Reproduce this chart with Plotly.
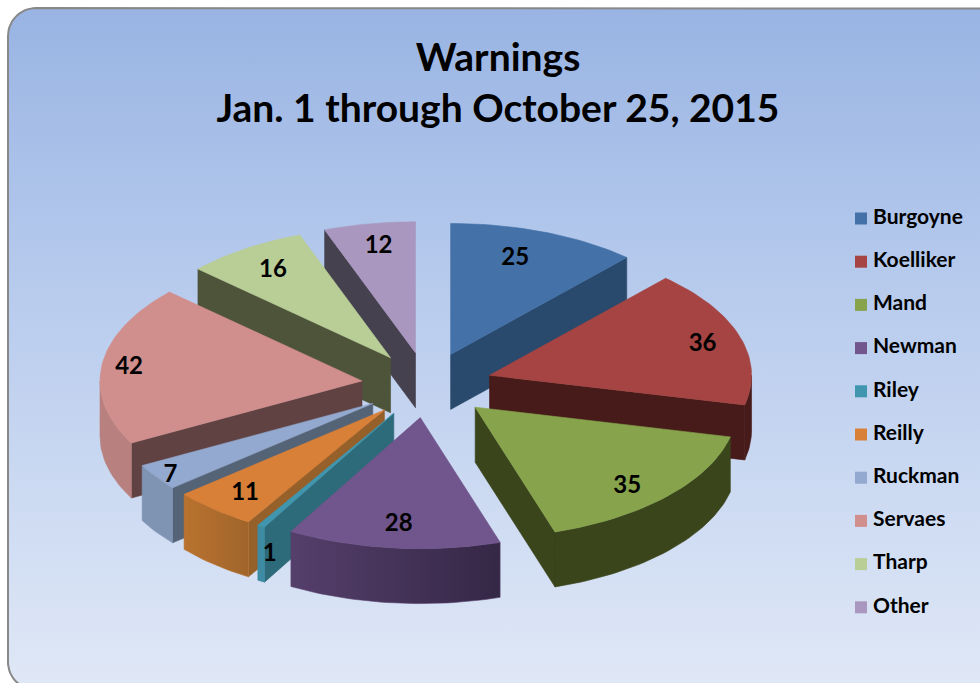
import math
import plotly.graph_objects as go

# ---- data ----
names = ["Burgoyne", "Koelliker", "Mand", "Newman", "Riley", "Reilly", "Ruckman", "Servaes", "Tharp", "Other"]
values = [25, 36, 35, 28, 1, 11, 7, 42, 16, 12]
title_lines = ["Warnings", "Jan. 1 through October 25, 2015"]

# ---- styles ----
top_colors = ["#4472A8", "#A54442", "#87A44D", "#71558D", "#4096AE", "#D88038", "#93A9CF", "#D08F8D", "#B9CD96", "#A997BF"]
cut_colors = ["#2A4A6D", "#471B19", "#3A451C", "#3A2B4B", "#2D6A7A", "#96602B", "#546376", "#604243", "#4E5439", "#45414F"]
outer_left = ["#2A4A6D", "#471B19", "#3A451C", "#553F6B", "#3E8CA3", "#B9722F", "#7F93B3", "#B8807E", "#4E5439", "#45414F"]
outer_right = ["#2A4A6D", "#471B19", "#3A451C", "#352746", "#3E8CA3", "#A0652B", "#7F93B3", "#B8807E", "#4E5439", "#45414F"]
label_nudge_x = [-11, 13, -2, 0, -18, -3, -29, -25, -1, 0]
label_nudge_y = [2, 1, 9, 3, 51, 5, 14, 0, 0, -3]

W, H = 980, 683
CX, CY = 427, 385       # pie centre on the page
RX, RY = 262, 131       # ellipse radii
EXPLODE = 0.25          # explosion as a fraction of the radius
DEPTH = 55              # extruded height
FONT = "Lato"
LEGEND_SWATCH_X, LEGEND_TEXT_X, LEGEND_TOP, LEGEND_PITCH = 861, 873, 218.5, 43.2


def ground(a, r=1.0):
    return r * RX * math.sin(a), -r * RY * math.cos(a)


def arc(ax, ay, a0, a1, dy=0.0, step=math.radians(1.5)):
    n = max(2, int(abs(a1 - a0) / step) + 2)
    pts = []
    for i in range(n):
        a = a0 + (a1 - a0) * i / (n - 1)
        gx, gy = ground(a)
        pts.append((ax + gx, ay + gy + dy))
    return pts


def poly(pts, color, gradient=None):
    xs = [p[0] for p in pts] + [pts[0][0]]
    ys = [p[1] for p in pts] + [pts[0][1]]
    kw = dict(x=xs, y=ys, mode="lines", fill="toself", hoverinfo="skip", showlegend=False,
              line=dict(color=color, width=0.6))
    if gradient:
        kw["fillgradient"] = dict(type="horizontal", colorscale=[[0, gradient[0]], [1, gradient[1]]])
    else:
        kw["fillcolor"] = color
    return go.Scatter(**kw)


fig = go.Figure()

# chart-area frame with the vertical background gradient
def rounded_frame(x0, y0, x1, y1, r):
    pts = []
    for cx, cy, start in [(x0 + r, y0 + r, 180), (x1 - r, y0 + r, 270), (x1 - r, y1 - r, 0), (x0 + r, y1 - r, 90)]:
        for d in range(0, 91, 6):
            t = math.radians(start + d)
            pts.append((cx + r * math.cos(t), cy + r * math.sin(t)))
    pts.append(pts[0])
    return pts


frame = rounded_frame(8, 8, 1010, 690, 28)
fig.add_trace(go.Scatter(
    x=[p[0] for p in frame], y=[p[1] for p in frame], mode="lines", fill="toself",
    hoverinfo="skip", showlegend=False, line=dict(color="#888888", width=2),
    fillgradient=dict(type="vertical", colorscale=[[0, "#E0E8F6"], [0.55, "#BACDEE"], [1, "#99B4E3"]]),
))

# slices
total = sum(values)
slices = []
cum = 0
for i, v in enumerate(values):
    a0 = 2 * math.pi * cum / total
    a1 = 2 * math.pi * (cum + v) / total
    cum += v
    mid = (a0 + a1) / 2
    ex, ey = ground(mid, EXPLODE)
    ax, ay = CX + ex, CY + ey
    slices.append((ay - 0.5 * RY * math.cos(mid), i, a0, a1, mid, ax, ay))

label_x, label_y = [None] * len(values), [None] * len(values)
for _, i, a0, a1, mid, ax, ay in sorted(slices):
    # flat cut faces that look towards the viewer
    for a, visible in ((a0, math.sin(a0) < 0), (a1, math.sin(a1) > 0)):
        if visible:
            gx, gy = ground(a)
            fig.add_trace(poly([(ax, ay), (ax + gx, ay + gy), (ax + gx, ay + gy + DEPTH), (ax, ay + DEPTH)], cut_colors[i]))
    # curved outer wall: only the front half of the ellipse
    w0, w1 = max(a0, math.pi / 2), min(a1, 3 * math.pi / 2)
    if w1 > w0:
        upper = arc(ax, ay, w0, w1)
        lower = arc(ax, ay, w1, w0, DEPTH)
        fig.add_trace(poly(upper + lower, outer_left[i], gradient=(outer_left[i], outer_right[i])))
    # top face
    fig.add_trace(poly([(ax, ay)] + arc(ax, ay, a0, a1), top_colors[i]))
    gx, gy = ground(mid, 0.8)
    label_x[i] = ax + gx + label_nudge_x[i]
    label_y[i] = ay + gy + label_nudge_y[i]

# data labels
fig.add_trace(go.Scatter(
    x=label_x, y=label_y, mode="text", text=[str(v) for v in values], hoverinfo="skip", showlegend=False,
    textposition="middle center", textfont=dict(family=FONT, size=24, color="black", weight="bold"),
))

# legend entries
legend_y = [LEGEND_TOP + LEGEND_PITCH * k for k in range(len(names))]
fig.add_trace(go.Scatter(
    x=[LEGEND_SWATCH_X] * len(names), y=legend_y, mode="markers", hoverinfo="skip", showlegend=False,
    marker=dict(symbol="square", size=12, color=top_colors, line=dict(width=0)),
))
fig.add_trace(go.Scatter(
    x=[LEGEND_TEXT_X] * len(names), y=legend_y, mode="text", text=names, hoverinfo="skip", showlegend=False,
    textposition="middle right", textfont=dict(family=FONT, size=21, color="black", weight="bold"),
))

fig.update_layout(
    width=W, height=H, margin=dict(l=0, r=0, t=0, b=0), autosize=False, showlegend=False,
    paper_bgcolor="white", plot_bgcolor="rgba(0,0,0,0)",
    xaxis=dict(range=[0, W], visible=False, fixedrange=True),
    yaxis=dict(range=[H, 0], visible=False, fixedrange=True),
    title=dict(text="<b>" + "</b><br><b>".join(title_lines) + "</b>",
               font=dict(family=FONT, size=39, color="black"),
               x=498 / W, xanchor="center", y=1 - 71 / H, yanchor="top"),
)
fig.write_html("out.html", config=dict(displayModeBar=False),
               post_script="document.body.style.margin='0';document.body.style.overflow='hidden';")
